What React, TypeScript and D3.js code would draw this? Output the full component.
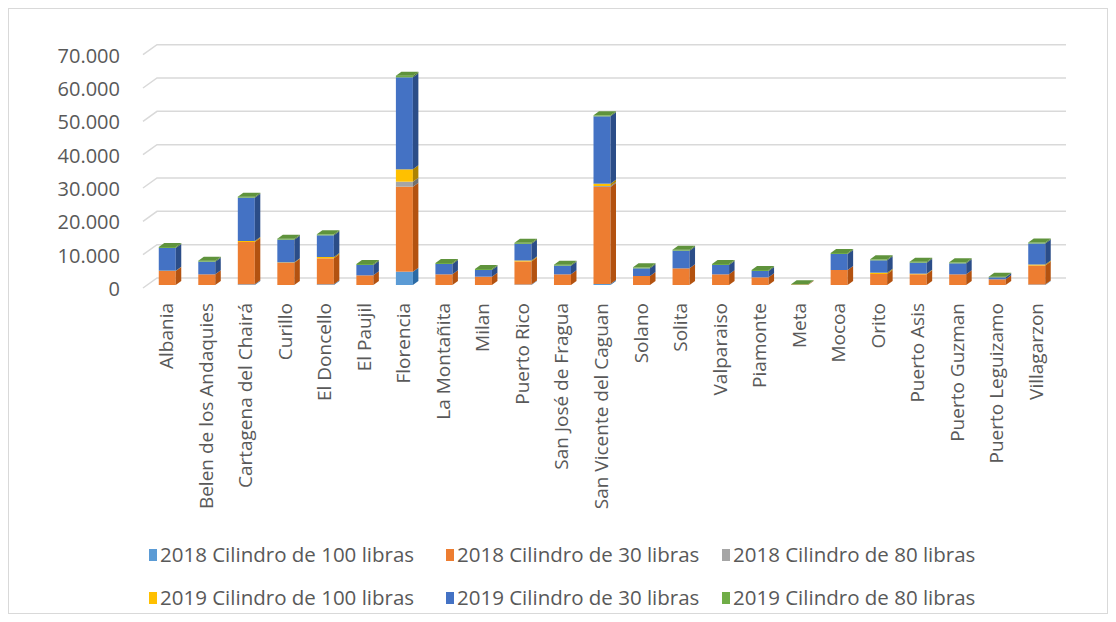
import * as d3 from 'd3';

// Municipalities on the X axis
const CATEGORIES = [
  'Albania', 'Belen de los Andaquies', 'Cartagena del Chairá', 'Curillo', 'El Doncello',
  'El Paujil', 'Florencia', 'La Montañita', 'Milan', 'Puerto Rico', 'San José de Fragua',
  'San Vicente del Caguan', 'Solano', 'Solita', 'Valparaiso', 'Piamonte', 'Meta', 'Mocoa',
  'Orito', 'Puerto Asis', 'Puerto Guzman', 'Puerto Leguizamo', 'Villagarzon',
];

const SERIES_NAMES = [
  '2018 Cilindro de 100 libras', '2018 Cilindro de 30 libras', '2018 Cilindro de 80 libras',
  '2019 Cilindro de 100 libras', '2019 Cilindro de 30 libras', '2019 Cilindro de 80 libras',
];

const S2018_100 = [0, 0, 200, 0, 200, 0, 4000, 0, 0, 150, 0, 300, 0, 0, 0, 0, 0, 0, 0, 0, 0, 0, 150];
const S2018_30 = [4200, 3200, 12700, 6700, 7800, 2900, 25500, 3200, 2500, 6900, 3200, 29100, 2700, 5000, 3200, 2300, 150, 4500, 3300, 3200, 3200, 1700, 5700];
const S2018_80 = [0, 0, 0, 0, 0, 0, 1500, 0, 0, 0, 0, 300, 0, 0, 0, 0, 0, 0, 0, 0, 0, 0, 0];
const S2019_100 = [100, 0, 300, 100, 400, 0, 3700, 0, 0, 300, 0, 700, 0, 0, 0, 0, 0, 0, 400, 200, 0, 0, 300];
const S2019_30 = [6800, 3800, 13000, 6800, 6500, 3100, 27600, 3100, 2000, 5000, 2600, 20200, 2300, 5300, 2800, 1900, 0, 4800, 3700, 3300, 3300, 600, 6300];
const S2019_80 = [300, 300, 300, 300, 300, 300, 500, 300, 300, 300, 300, 300, 300, 300, 300, 300, 100, 300, 300, 300, 300, 200, 300];

const Y_TICKS = [0, 10000, 20000, 30000, 40000, 50000, 60000, 70000];

const COLORS = ['#5B9BD5', '#ED7D31', '#A5A5A5', '#FFC000', '#4472C4', '#70AD47'];

const FONT = '"Open Sans", sans-serif';
const TEXT = '#595959';

// floor / wall geometry (oblique 3D look), page coordinates
const FRONT_LEFT = 143;
const FRONT_RIGHT = 1052;
const FRONT_ZERO = 288;
const DEPTH_X = 14;
const DEPTH_Y = 10;
const BAR_SHIFT_X = 4.5;
const BAR_SHIFT_Y = 3;
const SIDE_X = 5.5;
const SIDE_Y = 4;

// Spanish style thousands: 70.000
const fmt = (v: number) => (v === 0 ? '0' : d3.format(',')(v).replace(/,/g, '.'));

export default function App() {
  const rows = CATEGORIES.map((c, i) => ({
    cat: c,
    s0: S2018_100[i], s1: S2018_30[i], s2: S2018_80[i],
    s3: S2019_100[i], s4: S2019_30[i], s5: S2019_80[i],
  }));
  const keys = ['s0', 's1', 's2', 's3', 's4', 's5'];
  const stacked = d3.stack<any>().keys(keys)(rows);

  const x = d3.scaleBand<string>()
    .domain(CATEGORIES)
    .range([FRONT_LEFT, FRONT_RIGHT])
    .paddingInner(0.57)
    .paddingOuter(0.285);

  const y = d3.scaleLinear().domain([0, 70000]).range([0, 233.33]);

  const shade = (c: string, k: number) => {
    const h = d3.hsl(c);
    h.l = h.l * k;
    return h.formatHex();
  };

  const bars: JSX.Element[] = [];
  CATEGORIES.forEach((cat, i) => {
    const x0 = (x(cat) ?? 0) + BAR_SHIFT_X;
    const x1 = x0 + x.bandwidth();
    const base = FRONT_ZERO - BAR_SHIFT_Y;
    let topIdx = -1;
    stacked.forEach((s, si) => {
      const [a, b] = s[i];
      if (b - a <= 0) return;
      topIdx = si;
      const yb = base - y(a);
      const yt = base - y(b);
      bars.push(
        <g key={`${cat}-${si}`}>
          <rect x={x0} y={yt} width={x1 - x0} height={yb - yt} fill={COLORS[si]} />
          <path
            d={`M${x1},${yb}L${x1 + SIDE_X},${yb - SIDE_Y}L${x1 + SIDE_X},${yt - SIDE_Y}L${x1},${yt}Z`}
            fill={shade(COLORS[si], 0.68)}
          />
        </g>
      );
    });
    if (topIdx >= 0) {
      const yt = base - y(stacked[topIdx][i][1]);
      bars.push(
        <path
          key={`${cat}-top`}
          d={`M${x0},${yt}L${x1},${yt}L${x1 + SIDE_X},${yt - SIDE_Y}L${x0 + SIDE_X},${yt - SIDE_Y}Z`}
          fill={shade(COLORS[topIdx], 0.85)}
        />
      );
    }
  });

  const legendRows = [
    [0, 1, 2],
    [3, 4, 5],
  ];
  const legendX = [149, 446, 722];
  const legendY = [555, 598];

  return (
    <svg width={1100} height={606} style={{ display: 'block', fontFamily: FONT }}>
      <rect x={0.5} y={0.5} width={1099} height={605} fill="#fff" stroke="#d9d9d9" />
      <g transform="translate(-8,-8)">
        {Y_TICKS.map(t => {
          const yf = FRONT_ZERO - y(t);
          return (
            <g key={t}>
              <path
                d={`M${FRONT_LEFT},${yf}L${FRONT_LEFT + DEPTH_X},${yf - DEPTH_Y}L${FRONT_RIGHT + DEPTH_X},${yf - DEPTH_Y}`}
                fill="none"
                stroke="#d9d9d9"
                strokeWidth={1.5}
              />
              <text x={120} y={yf + 1} dy="0.35em" textAnchor="end" fontSize={20} fill={TEXT}>
                {fmt(t)}
              </text>
            </g>
          );
        })}
        {bars}
        {CATEGORIES.map(c => {
          const cx = (x(c) ?? 0) + x.bandwidth() / 2 + BAR_SHIFT_X + 6;
          return (
            <text
              key={c}
              transform={`translate(${cx},303) rotate(-90)`}
              textAnchor="end"
              fontSize={19}
              fill={TEXT}
            >
              {c}
            </text>
          );
        })}
        {legendRows.map((r, ri) =>
          r.map((si, ci) => (
            <g key={si} transform={`translate(${legendX[ci]},${legendY[ri]})`}>
              <rect x={0} y={-6} width={8} height={12} fill={COLORS[si]} />
              <text x={11} dy="0.35em" fontSize={20.5} fill={TEXT}>
                {SERIES_NAMES[si]}
              </text>
            </g>
          ))
        )}
      </g>
    </svg>
  );
}
